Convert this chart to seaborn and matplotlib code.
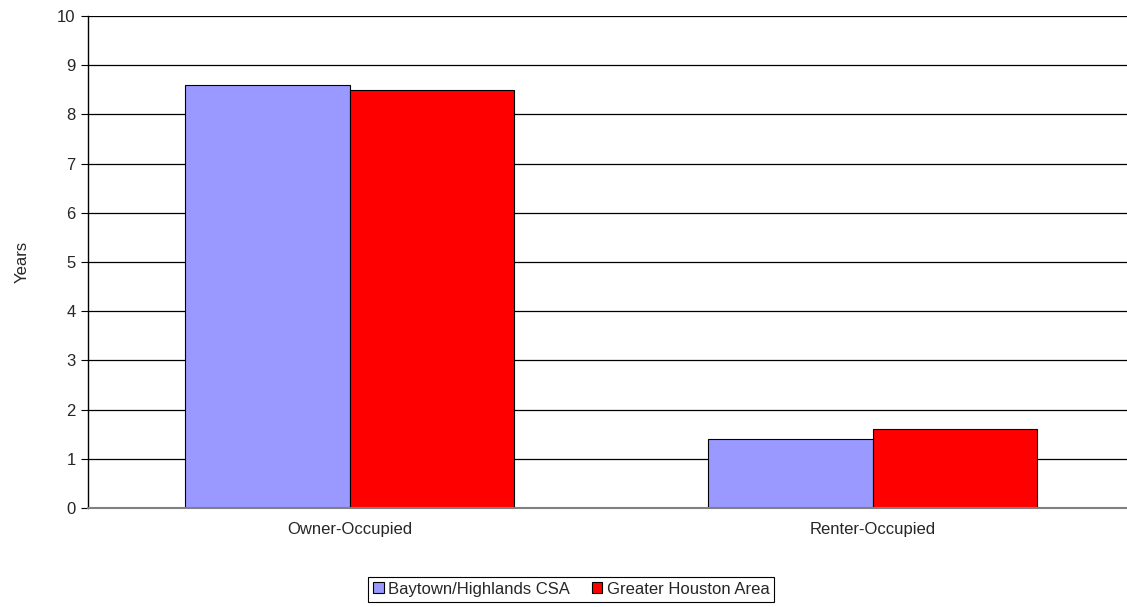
import pandas as pd
import matplotlib
matplotlib.use('Agg')
import matplotlib.pyplot as plt
import seaborn as sns

categories = ['Owner-Occupied', 'Renter-Occupied']
series = ['Baytown/Highlands CSA', 'Greater Houston Area']
baytown = [8.6, 1.4]
houston = [8.5, 1.6]
colors = ['#9999FF', '#FF0000']

df = pd.DataFrame({
    'category': categories * 2,
    'area': [series[0]] * 2 + [series[1]] * 2,
    'years': baytown + houston,
})

sns.set_style('white')
plt.rcParams['font.family'] = ['Liberation Sans', 'DejaVu Sans']

fig = plt.figure(figsize=(11.27, 6.07), dpi=100)
ax = fig.add_axes([88 / 1127, 1 - 508 / 607, 1046 / 1127, 492 / 607])

sns.barplot(data=df, x='category', y='years', hue='area', palette=colors,
            saturation=1, width=0.628, edgecolor='black', linewidth=0.8,
            ax=ax, legend=True)

ax.set_xlim(-0.5, 1.5)
ax.set_ylim(0, 10)
ax.set_yticks(range(0, 11))
ax.yaxis.grid(True, color='black', linewidth=0.9)
ax.set_axisbelow(True)
for s in ['top', 'right']:
    ax.spines[s].set_visible(False)
ax.spines['left'].set_color('black')
ax.spines['bottom'].set_color('#808080')
ax.spines['left'].set_linewidth(1.0)
ax.spines['bottom'].set_linewidth(1.5)

ax.set_xticks([-0.5, 0.5, 1.5], minor=True)
ax.tick_params(axis='x', which='minor', length=5, direction='out', color='black')
ax.tick_params(axis='x', which='major', length=0, labelsize=12, pad=10)
ax.tick_params(axis='y', length=5, direction='out', color='black', labelsize=12,
               left=True, pad=4)
ax.set_xlabel('')
ax.set_ylabel('Years', fontsize=12, labelpad=20)

ax.legend(loc='center', bbox_to_anchor=(0.462, -0.165), ncol=2,
          frameon=True, fancybox=False, edgecolor='black', fontsize=12,
          handlelength=0.65, handleheight=0.65, handletextpad=0.25,
          columnspacing=1.3, borderpad=0.3, framealpha=1)
ax.get_legend().get_frame().set_linewidth(0.8)

fig.savefig('out.png', dpi=100)
